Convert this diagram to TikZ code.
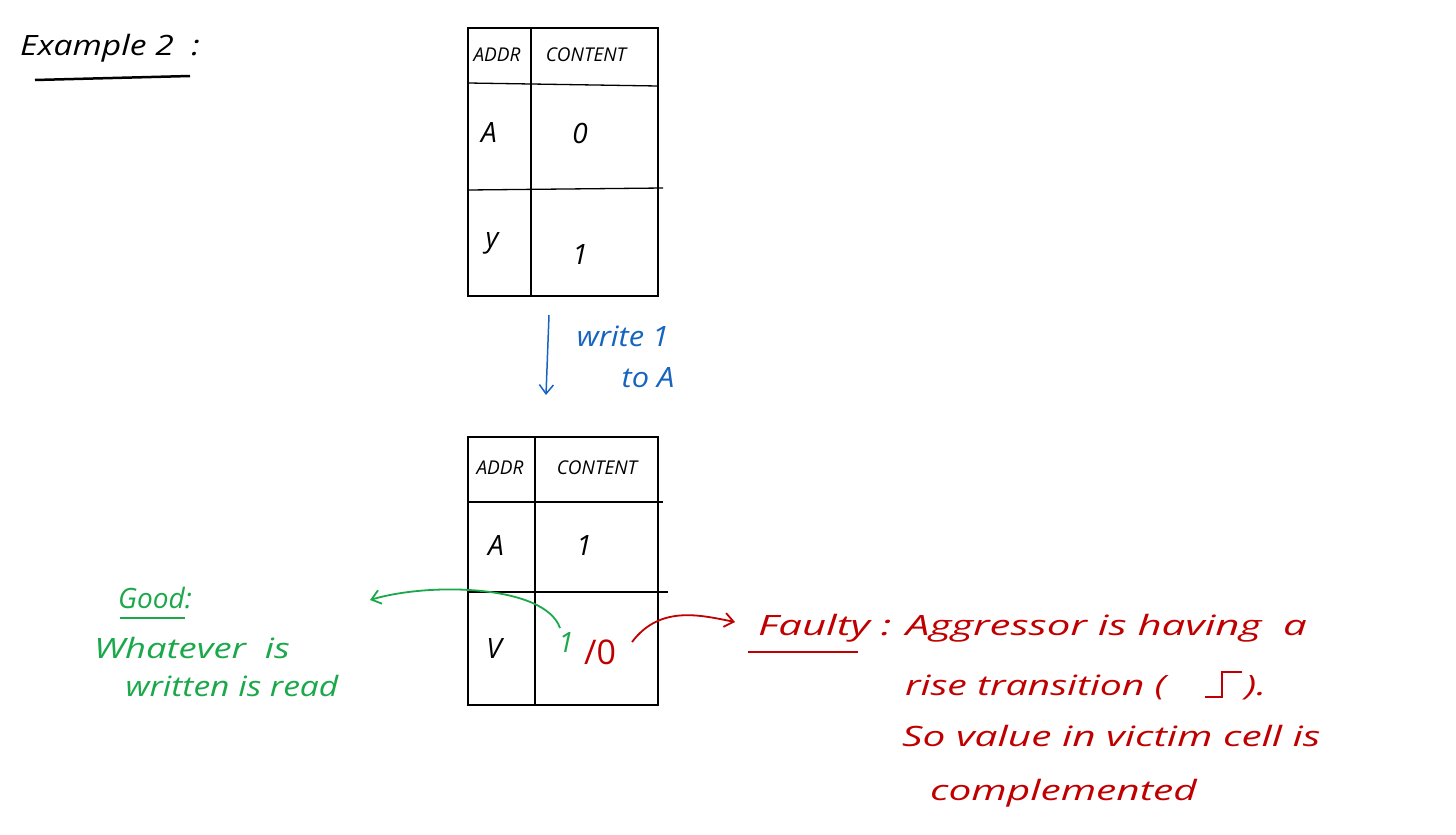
\documentclass[tikz,border=0pt]{standalone}
\usepackage{fontspec}
\usetikzlibrary{arrows.meta}
\setmainfont{Open Sans}
\newcommand{\hwx}[2][1.4]{\scalebox{#1}[1]{#2}}
\begin{document}
\begin{tikzpicture}[x=1pt,y=-1pt,
  tl/.style={line width=1.3pt,black},
  t/.style={font=\fontsize{28}{30}\selectfont\itshape,inner sep=0},
  ts/.style={font=\fontsize{19}{22}\selectfont\itshape,inner sep=0},
  g/.style={t,color=gr},r/.style={t,color=rd},b/.style={t,color=bl},
  ar/.style={line width=1.8pt,-{Straight Barb[length=9pt,width=14pt]}}]
\definecolor{gr}{HTML}{1AA84A}\definecolor{rd}{HTML}{C00000}\definecolor{bl}{HTML}{1565C0}
\useasboundingbox (0,0) rectangle (1456,835);
% title
\node[t,anchor=west] (title) at (20,48) {\hwx[1.2]{Example 2 \ :}};
\draw[line width=2.5pt] (35,80) -- (190,76);
% top table
\draw[tl] (468,28) rectangle (658,296);
\draw[tl] (531,28) -- (531,296);
\draw[tl] (468,83) -- (658,86);
\draw[tl] (468,190) -- (663,188);
\node[ts] (a1) at (497,55) {ADDR};
\node[ts] (c1) at (586,55) {CONTENT};
\node[t] (ra) at (489,133) {A};
\node[t] (r0) at (580,133) {0};
\node[t] (ry) at (492,243) {y};
\node[t] (r1) at (580,255) {1};
% arrow
\coordinate (ws) at (549,315); \coordinate (we) at (546,395);
\draw[bl,ar,line width=1.5pt] (ws) -- (we);
\node[b] (w1) at (623,336) {\hwx[1.1]{write 1}};
\node[b] (w2) at (648,378) {\hwx[1.1]{to A}};
% bottom table
\draw[tl] (468,437) rectangle (658,705);
\draw[tl] (535,437) -- (535,705);
\draw[tl] (468,502) -- (663,502);
\draw[tl] (468,592) -- (668,592);
\node[ts] (a2) at (500,468) {ADDR};
\node[ts] (c2) at (597,468) {CONTENT};
\node[t] (ba) at (496,545) {A};
\node[t] (b1) at (584,545) {1};
\node[t] (bv) at (494,648) {V};
\node[g] (v1) at (566,642) {1};
\node[r,font=\fontsize{34}{36}\selectfont] (v0) at (600,652) {/0};
% green
\coordinate (ge) at (370,600);
\draw[gr,ar] (560,628) .. controls (545,585) and (430,582) .. (ge);
\node[g] (good) at (155,598) {Good:};
\draw[gr,line width=1.5pt] (120,618) -- (185,618);
\node[g] (g2) at (192,648) {\hwx[1.3]{Whatever \ is}};
\node[g] (g3) at (232,686) {\hwx[1.2]{written is read}};
% red
\coordinate (re) at (735,622);
\draw[rd,ar] (632,642) .. controls (660,605) and (700,615) .. (re);
\node[r,anchor=west] (f1) at (758,628) {\hwx[1.5]{Faulty : Aggressor is having \ a}};
\draw[rd,line width=1.8pt] (748,652) -- (858,652);
\node[r,anchor=base west] (f2) at (905,695) {\hwx[1.4]{rise transition (}};
\draw[rd,line width=1.8pt] (1205,697) -- (1222,697) -- (1222,672) -- (1242,672);
\node[r,anchor=base west] (f2b) at (1245,695) {\hwx[1.4]{).}};
\node[r,anchor=west] (f3) at (902,736) {\hwx[1.45]{So value in victim cell is}};
\node[r,anchor=west] (f4) at (930,793) {\hwx[1.45]{complemented}};
\end{tikzpicture}
\end{document}
